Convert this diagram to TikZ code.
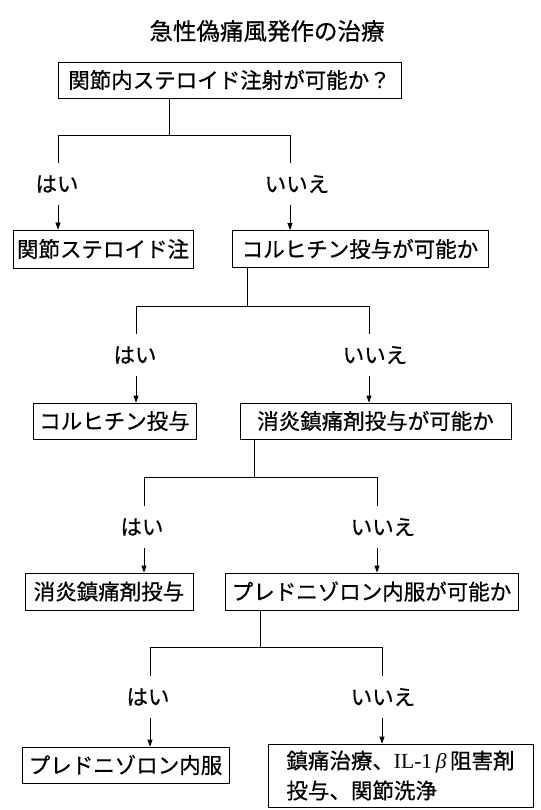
\documentclass[tikz,border=0pt]{standalone}
\usepackage{fontspec}
\setmainfont{Noto Sans CJK JP}[RawFeature={embolden=0.6}]
\newfontfamily\latinserif{Liberation Serif}
\usetikzlibrary{arrows.meta,calc}
\begin{document}
\begin{tikzpicture}[x=1pt,y=-1pt,
  box/.style={draw,line width=0.8pt,inner sep=0pt,align=center,font=\fontsize{21.5pt}{30pt}\selectfont},
  lbl/.style={inner sep=0pt,minimum height=42pt,font=\fontsize{21.5pt}{26pt}\selectfont},
  conn/.style={line width=0.8pt},
  arr/.style={line width=0.8pt,-{Triangle[length=7pt,width=5pt]}}]
\useasboundingbox[fill=white] (0,0) rectangle (540,810);
\node[font=\fontsize{23.5pt}{28pt}\selectfont,inner sep=0pt] (title) at (267,31) {急性偽痛風発作の治療};
% boxes
\node[box,minimum width=343pt,minimum height=36pt] (b1) at (229.5,80) {関節内ステロイド注射が可能か？};
\node[box,minimum width=180pt,minimum height=38pt] (b2) at (103,249) {関節ステロイド注};
\node[box,minimum width=256pt,minimum height=37pt] (b3) at (360,249) {コルヒチン投与が可能か};
\node[box,minimum width=163pt,minimum height=36pt] (b4) at (114.5,421) {コルヒチン投与};
\node[box,minimum width=271pt,minimum height=36pt] (b5) at (375.5,421) {消炎鎮痛剤投与が可能か};
\node[box,minimum width=168pt,minimum height=37pt] (b6) at (109,591.5) {消炎鎮痛剤投与};
\node[box,minimum width=293pt,minimum height=37pt] (b7) at (371.5,591.5) {プレドニゾロン内服が可能か};
\node[box,minimum width=207pt,minimum height=36pt] (b8) at (125.5,765) {プレドニゾロン内服};
\node[box,minimum width=265pt,minimum height=63pt,align=left] (b9) at (400.5,775.5) {鎮痛治療、{\latinserif IL-1}\,{\latinserif\itshape β}\,阻害剤\\投与、関節洗浄};
% labels
\node[lbl] (y1) at (57,184) {はい};
\node[lbl] (n1) at (297,184) {いいえ};
\node[lbl] (y2) at (135,355) {はい};
\node[lbl] (n2) at (375,355) {いいえ};
\node[lbl] (y3) at (142,527) {はい};
\node[lbl] (n3) at (383,527) {いいえ};
\node[lbl] (y4) at (148,697) {はい};
\node[lbl] (n4) at (383,697) {いいえ};
% junctions
\coordinate (s1) at (169,135); \coordinate (l1) at (58,135); \coordinate (r1) at (290,135);
\coordinate (s2) at (247,306); \coordinate (l2) at (136,306); \coordinate (r2) at (369,306);
\coordinate (s3) at (254,477); \coordinate (l3) at (144,477); \coordinate (r3) at (377,477);
\coordinate (s4) at (260,647); \coordinate (l4) at (150,647); \coordinate (r4) at (382,647);
% split 1
\draw[conn] (b1.south -| s1) -- (s1);
\draw[conn] (l1 |- y1.north) -- (l1) -- (r1) -- (r1 |- n1.north);
\draw[arr] (l1 |- y1.south) -- (l1 |- b2.north);
\draw[arr] (r1 |- n1.south) -- (r1 |- b3.north);
% split 2
\draw[conn] (b3.south -| s2) -- (s2);
\draw[conn] (l2 |- y2.north) -- (l2) -- (r2) -- (r2 |- n2.north);
\draw[arr] (l2 |- y2.south) -- (l2 |- b4.north);
\draw[arr] (r2 |- n2.south) -- (r2 |- b5.north);
% split 3
\draw[conn] (b5.south -| s3) -- (s3);
\draw[conn] (l3 |- y3.north) -- (l3) -- (r3) -- (r3 |- n3.north);
\draw[arr] (l3 |- y3.south) -- (l3 |- b6.north);
\draw[arr] (r3 |- n3.south) -- (r3 |- b7.north);
% split 4
\draw[conn] (b7.south -| s4) -- (s4);
\draw[conn] (l4 |- y4.north) -- (l4) -- (r4) -- (r4 |- n4.north);
\draw[arr] (l4 |- y4.south) -- (l4 |- b8.north);
\draw[arr] (r4 |- n4.south) -- (r4 |- b9.north);
\end{tikzpicture}
\end{document}
